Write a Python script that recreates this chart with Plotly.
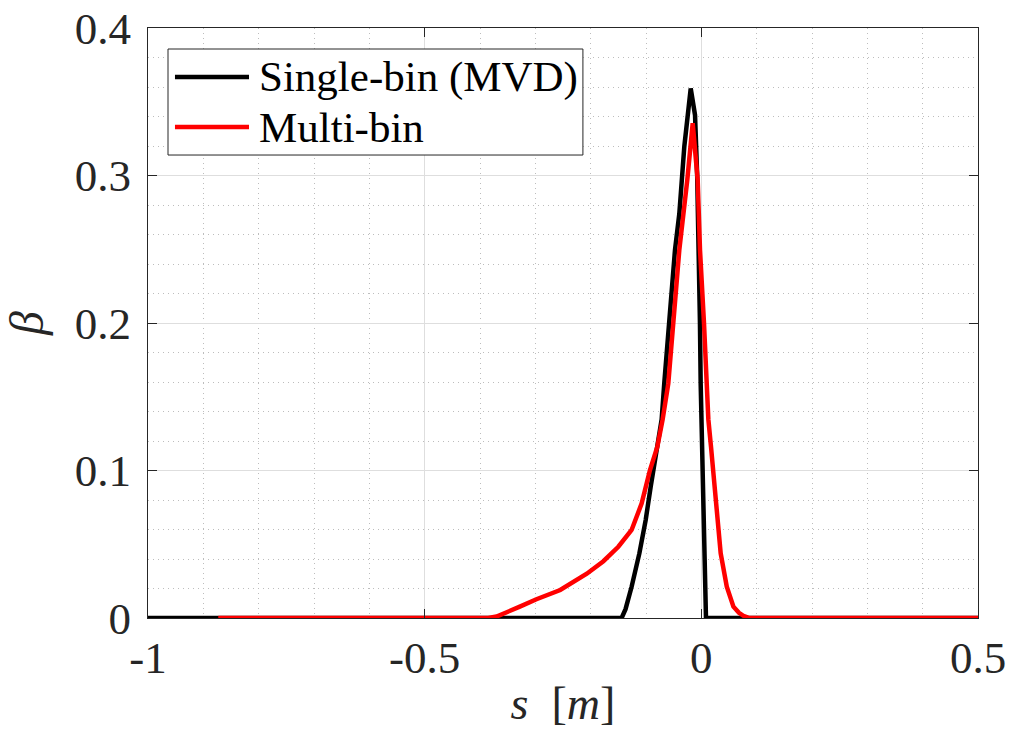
import plotly.graph_objects as go

# Single-bin (MVD)
s_single = [-1.0, -0.144, -0.137, -0.126, -0.112, -0.1006, -0.0915, -0.0819, -0.0717, -0.067,
            -0.058, -0.0476, -0.0398, -0.0308, -0.0192, -0.0114, -0.0075, -0.0045, -0.0025,
            -0.0012, 0.0010, 0.0036, 0.0067, 0.0084, 0.5]
b_single = [0.0, 0.0, 0.006, 0.0212, 0.0438, 0.0664, 0.089, 0.1117, 0.1346, 0.159,
            0.200, 0.2495, 0.274, 0.3195, 0.359, 0.341, 0.300, 0.2495, 0.200,
            0.159, 0.116, 0.0664, 0.0212, 0.0, 0.0]

# Multi-bin
s_multi = [-0.873, -0.385, -0.370, -0.350, -0.328, -0.298, -0.255, -0.207, -0.177, -0.150,
           -0.126, -0.1078, -0.0928, -0.0796, -0.0699, -0.0597, -0.0506, -0.0398, -0.0254,
           -0.0156, -0.0066, -0.0024, 0.0048, 0.0108, 0.0127, 0.0175, 0.0217, 0.029, 0.035,
           0.046, 0.058, 0.068, 0.076, 0.087, 0.5]
b_multi = [0.0, 0.0, 0.001, 0.004, 0.0077, 0.0127, 0.019, 0.030, 0.0385, 0.0483,
           0.0597, 0.0777, 0.1003, 0.116, 0.1346, 0.159, 0.200, 0.2495, 0.297,
           0.3354, 0.297, 0.2495, 0.200, 0.159, 0.1346, 0.116, 0.1003, 0.0664, 0.0438,
           0.0212, 0.0077, 0.0035, 0.0015, 0.0, 0.0]

x_ticks = [-1, -0.5, 0, 0.5]
x_ticktext = ["-1", "-0.5", "0", "0.5"]
y_ticks = [0, 0.1, 0.2, 0.3, 0.4]
y_ticktext = ["0", "0.1", "0.2", "0.3", "0.4"]
legend_names = ["Single-bin (MVD)", "Multi-bin"]
colors = ["#000000", "#ff0000"]

FONT = "Liberation Serif"
AX = "#262626"

fig = go.Figure()
fig.add_trace(go.Scatter(x=s_single, y=b_single, mode="lines", name=legend_names[0],
                         line=dict(color=colors[0], width=4.5), showlegend=False))
fig.add_trace(go.Scatter(x=s_multi, y=b_multi, mode="lines", name=legend_names[1],
                         line=dict(color=colors[1], width=4.5), showlegend=False))

axis_common = dict(
    showline=True, linecolor=AX, linewidth=1, mirror="ticks",
    ticks="inside", ticklen=9, tickcolor=AX, tickwidth=1,
    showgrid=True, gridcolor="#dedede", gridwidth=1,
    zeroline=False, automargin=False,
    tickfont=dict(family=FONT, size=45, color=AX),
)

minor_grid = dict(showgrid=True, gridcolor="#bdbdbd", griddash="1px,4px", gridwidth=1)

fig.update_xaxes(range=[-1, 0.5], tickvals=x_ticks, ticktext=x_ticktext,
                 minor=dict(dtick=0.1, **minor_grid),
                 title=dict(text="<i>s</i>  [<i>m</i>]", font=dict(family=FONT, size=46, color=AX), standoff=4),
                 ticklabelstandoff=0,
                 **axis_common)
fig.update_yaxes(range=[0, 0.4], tickvals=y_ticks, ticktext=y_ticktext,
                 minor=dict(dtick=0.02, **minor_grid),
                 title=dict(text="<i>β</i>", font=dict(family=FONT, size=48, color=AX), standoff=23),
                 ticklabelstandoff=7,
                 **axis_common)

# legend box (paper coordinates)
lx0, lx1, ly0, ly1 = 0.0241, 0.524, 0.7847, 0.9644
fig.add_shape(type="rect", xref="paper", yref="paper", x0=lx0, x1=lx1, y0=ly0, y1=ly1,
              line=dict(color=AX, width=1), fillcolor="white", layer="above")
rows_y = [0.917, 0.832]
for name, col, yy in zip(legend_names, colors, rows_y):
    fig.add_shape(type="line", xref="paper", yref="paper", x0=0.0325, x1=0.1217, y0=yy, y1=yy,
                  line=dict(color=col, width=4.5), layer="above")
    fig.add_annotation(xref="paper", yref="paper", x=0.1313, y=yy, text=name, showarrow=False,
                       xanchor="left", yanchor="middle",
                       font=dict(family=FONT, size=43, color="#000000"))

fig.update_layout(
    width=1025, height=747,
    margin=dict(l=148, r=47, t=28, b=129),
    paper_bgcolor="white", plot_bgcolor="white",
    font=dict(family=FONT, color=AX),
    showlegend=False,
)

fig.write_html("out.html")
